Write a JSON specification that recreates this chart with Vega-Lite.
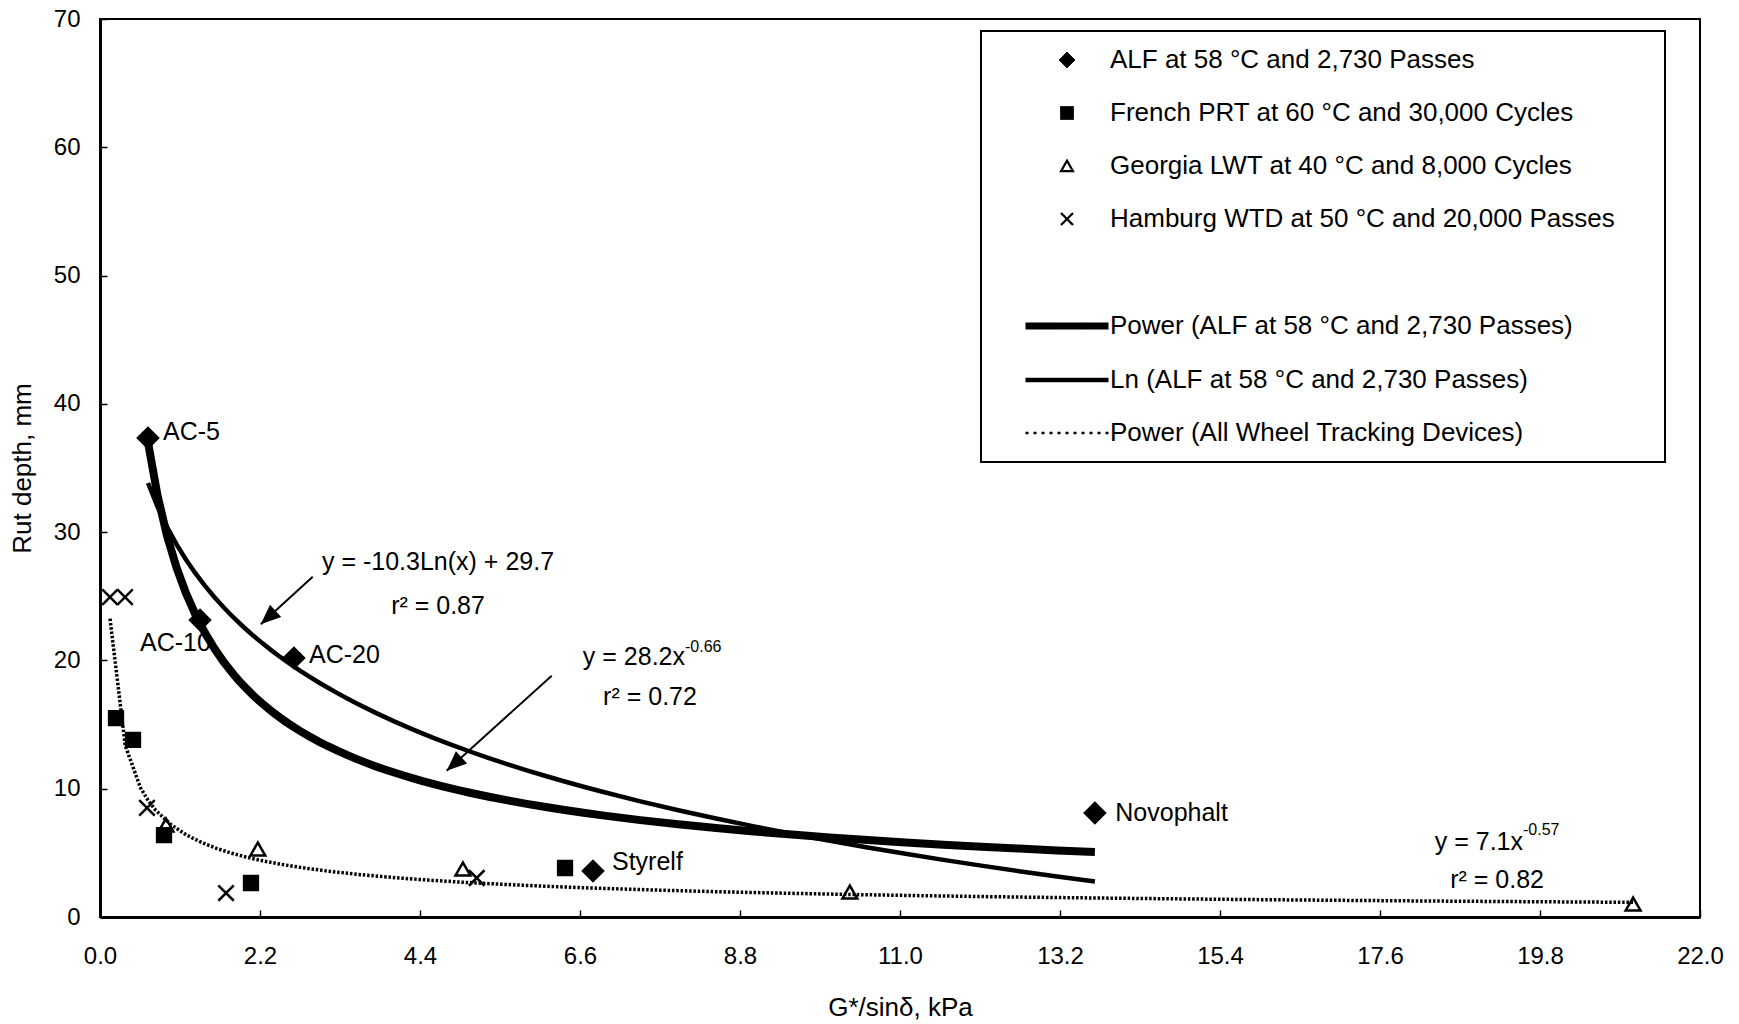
{
  "$schema": "https://vega.github.io/schema/vega-lite/v6.json",
  "autosize": {"type": "none"},
  "width": 1600,
  "height": 898,
  "padding": {"left": 100, "top": 19, "right": 39, "bottom": 107},
  "background": "white",
  "config": {
    "font": "Liberation Sans",
    "view": {"stroke": "black", "strokeWidth": 2},
    "axis": {
      "grid": false,
      "domainColor": "black",
      "domainWidth": 3,
      "tickColor": "black",
      "tickWidth": 1.5,
      "tickSize": -7,
      "labelColor": "black",
      "labelFontSize": 24,
      "labelFlush": false,
      "labelOverlap": false,
      "titleColor": "black",
      "titleFontSize": 26,
      "titleFontWeight": "normal"
    },
    "legend": {
      "orient": "none",
      "legendX": 881,
      "legendY": 12,
      "strokeColor": "black",
      "fillColor": "white",
      "padding": 16,
      "labelFontSize": 26,
      "labelColor": "black",
      "labelLimit": 1000,
      "rowPadding": 27,
      "symbolOffset": 57,
      "labelOffset": 30,
      "symbolStrokeColor": "black",
      "titleOrient": "right",
      "titlePadding": 34,
      "titleFontSize": 10
    }
  },
  "datasets": {
    "points": [
      {"series": "ALF at 58 °C and 2,730 Passes", "x": 0.66, "y": 37.34},
      {"series": "ALF at 58 °C and 2,730 Passes", "x": 1.375, "y": 23.15},
      {"series": "ALF at 58 °C and 2,730 Passes", "x": 2.667, "y": 20.19},
      {"series": "ALF at 58 °C and 2,730 Passes", "x": 6.779, "y": 3.59},
      {"series": "ALF at 58 °C and 2,730 Passes", "x": 13.68, "y": 8.11},
      {"series": "French PRT at 60 °C and 30,000 Cycles", "x": 0.22, "y": 15.51},
      {"series": "French PRT at 60 °C and 30,000 Cycles", "x": 0.454, "y": 13.8},
      {"series": "French PRT at 60 °C and 30,000 Cycles", "x": 0.88, "y": 6.39},
      {"series": "French PRT at 60 °C and 30,000 Cycles", "x": 2.076, "y": 2.65},
      {"series": "French PRT at 60 °C and 30,000 Cycles", "x": 6.394, "y": 3.82},
      {"series": "Georgia LWT at 40 °C and 8,000 Cycles", "x": 0.907, "y": 7.17},
      {"series": "Georgia LWT at 40 °C and 8,000 Cycles", "x": 2.17, "y": 5.3},
      {"series": "Georgia LWT at 40 °C and 8,000 Cycles", "x": 4.99, "y": 3.74},
      {"series": "Georgia LWT at 40 °C and 8,000 Cycles", "x": 10.31, "y": 1.95},
      {"series": "Georgia LWT at 40 °C and 8,000 Cycles", "x": 21.08, "y": 1.01},
      {"series": "Hamburg WTD at 50 °C and 20,000 Passes", "x": 0.1375, "y": 24.94},
      {"series": "Hamburg WTD at 50 °C and 20,000 Passes", "x": 0.344, "y": 24.94},
      {"series": "Hamburg WTD at 50 °C and 20,000 Passes", "x": 0.646, "y": 8.5},
      {"series": "Hamburg WTD at 50 °C and 20,000 Passes", "x": 1.733, "y": 1.87},
      {"series": "Hamburg WTD at 50 °C and 20,000 Passes", "x": 5.18, "y": 3.04}
    ],
    "notes": [
      {"role": "label", "text": "AC-5", "x": 0.866, "y": 37.8},
      {"role": "label", "text": "AC-10", "x": 0.55, "y": 21.36},
      {"role": "label", "text": "AC-20", "x": 2.874, "y": 20.42},
      {"role": "label", "text": "Styrelf", "x": 7.04, "y": 4.29},
      {"role": "label", "text": "Novophalt", "x": 13.96, "y": 8.1},
      {"role": "center", "text": "y = -10.3Ln(x) + 29.7", "x": 4.648, "y": 27.67},
      {"role": "center", "text": "r² = 0.87", "x": 4.648, "y": 24.24},
      {"role": "center", "text": "r² = 0.72", "x": 7.5625, "y": 17.15},
      {"role": "center", "text": "r² = 0.82", "x": 19.21, "y": 2.88},
      {"role": "right", "text": "y = 28.2x", "x": 8.044, "y": 20.27},
      {"role": "right", "text": "y = 7.1x", "x": 19.566, "y": 5.85},
      {"role": "sup", "text": "-0.66", "x": 8.044, "y": 21.05},
      {"role": "sup", "text": "-0.57", "x": 19.566, "y": 6.78}
    ],
    "arrows": [
      {"x": 2.925, "y": 26.53, "x2": 2.21, "y2": 22.82},
      {"x": 6.211, "y": 18.81, "x2": 4.767, "y2": 11.4}
    ]
  },
  "layer": [
    {
      "data": {"name": "notes"},
      "transform": [{"filter": "datum.role === 'label'"}],
      "mark": {"type": "text", "align": "left", "baseline": "middle", "fontSize": 25, "color": "black"},
      "encoding": {
        "x": {
          "field": "x", "type": "quantitative",
          "scale": {"domain": [0, 22], "nice": false, "zero": false},
          "axis": {
            "title": "G*/sinδ, kPa",
            "values": [0, 2.2, 4.4, 6.6, 8.8, 11, 13.2, 15.4, 17.6, 19.8, 22],
            "format": ".1f",
            "labelPadding": 34,
            "titleY": 90,
            "titleBaseline": "middle"
          }
        },
        "y": {
          "field": "y", "type": "quantitative",
          "scale": {"domain": [0, 70], "nice": false},
          "axis": {
            "title": "Rut depth, mm",
            "values": [0, 10, 20, 30, 40, 50, 60, 70],
            "labelPadding": 27,
            "titleX": -78,
            "titleBaseline": "middle"
          }
        },
        "text": {"field": "text"}
      }
    },
    {
      "data": {"name": "notes"},
      "transform": [{"filter": "datum.role === 'center'"}],
      "mark": {"type": "text", "align": "center", "baseline": "middle", "fontSize": 25, "color": "black"},
      "encoding": {
        "x": {"field": "x", "type": "quantitative"},
        "y": {"field": "y", "type": "quantitative"},
        "text": {"field": "text"}
      }
    },
    {
      "data": {"name": "notes"},
      "transform": [{"filter": "datum.role === 'right'"}],
      "mark": {"type": "text", "align": "right", "baseline": "middle", "fontSize": 25, "color": "black"},
      "encoding": {
        "x": {"field": "x", "type": "quantitative"},
        "y": {"field": "y", "type": "quantitative"},
        "text": {"field": "text"}
      }
    },
    {
      "data": {"name": "notes"},
      "transform": [{"filter": "datum.role === 'sup'"}],
      "mark": {"type": "text", "align": "left", "baseline": "middle", "fontSize": 16, "color": "black"},
      "encoding": {
        "x": {"field": "x", "type": "quantitative"},
        "y": {"field": "y", "type": "quantitative"},
        "text": {"field": "text"}
      }
    },
    {
      "data": {"name": "points"},
      "transform": [
        {"filter": "datum.series === 'ALF at 58 °C and 2,730 Passes'"},
        {"regression": "y", "on": "x", "method": "pow"}
      ],
      "mark": {"type": "line", "color": "black", "strokeWidth": 8, "strokeCap": "butt"},
      "encoding": {
        "x": {"field": "x", "type": "quantitative"},
        "y": {"field": "y", "type": "quantitative"}
      }
    },
    {
      "data": {"name": "points"},
      "transform": [
        {"filter": "datum.series === 'ALF at 58 °C and 2,730 Passes'"},
        {"regression": "y", "on": "x", "method": "log"}
      ],
      "mark": {"type": "line", "color": "black", "strokeWidth": 4.5, "strokeCap": "butt"},
      "encoding": {
        "x": {"field": "x", "type": "quantitative"},
        "y": {"field": "y", "type": "quantitative"}
      }
    },
    {
      "data": {"name": "points"},
      "transform": [
        {"filter": "datum.series !== 'ALF at 58 °C and 2,730 Passes'"},
        {"regression": "y", "on": "x", "method": "pow"}
      ],
      "mark": {"type": "line", "color": "black", "strokeWidth": 3.5, "strokeDash": [2.5, 1.8], "strokeCap": "butt"},
      "encoding": {
        "x": {"field": "x", "type": "quantitative"},
        "y": {"field": "y", "type": "quantitative"}
      }
    },
    {
      "data": {"name": "points"},
      "mark": {"type": "point", "stroke": "black", "strokeWidth": 2.5, "opacity": 1},
      "encoding": {
        "x": {"field": "x", "type": "quantitative"},
        "y": {"field": "y", "type": "quantitative"},
        "shape": {
          "field": "series", "type": "nominal", "title": "\u00a0",
          "scale": {"domain": ["ALF at 58 °C and 2,730 Passes", "French PRT at 60 °C and 30,000 Cycles", "Georgia LWT at 40 °C and 8,000 Cycles", "Hamburg WTD at 50 °C and 20,000 Passes", " ", "Power (ALF at 58 °C and 2,730 Passes)", "Ln (ALF at 58 °C and 2,730 Passes)", "Power (All Wheel Tracking Devices)"],
            "range": ["diamond", "square", "triangle-up", "M-1,-1L1,1M-1,1L1,-1", "circle", "stroke", "stroke", "stroke"]},
          "legend": {
            "encoding": {
              "symbols": {
                "fill": {"value": {"expr": "datum.value === 'ALF at 58 °C and 2,730 Passes' || datum.value === 'French PRT at 60 °C and 30,000 Cycles' ? 'black' : 'transparent'"}},
                "stroke": {"value": "black"},
                "size": {"value": {"expr": "indexof(['Power (ALF at 58 °C and 2,730 Passes)', 'Ln (ALF at 58 °C and 2,730 Passes)', 'Power (All Wheel Tracking Devices)'], datum.value) >= 0 ? 6889 : datum.value === 'ALF at 58 °C and 2,730 Passes' ? 256 : datum.value === ' ' ? 0 : datum.value === 'French PRT at 60 °C and 30,000 Cycles' ? 169 : 144"}},
                "strokeWidth": {"value": {"expr": "datum.value === 'Power (ALF at 58 °C and 2,730 Passes)' ? 7 : datum.value === 'Ln (ALF at 58 °C and 2,730 Passes)' ? 4.5 : datum.value === 'Power (All Wheel Tracking Devices)' ? 2.5 : datum.value === 'Georgia LWT at 40 °C and 8,000 Cycles' || datum.value === 'Hamburg WTD at 50 °C and 20,000 Passes' ? 2.2 : 1"}},
                "strokeDash": {"value": {"expr": "datum.value === 'Power (All Wheel Tracking Devices)' ? [3, 5] : [1, 0]"}}
              },
              "legend": {"strokeWidth": {"value": 2}}
            }
          }
        },
        "size": {
          "condition": [
            {"test": "datum.series === 'ALF at 58 °C and 2,730 Passes'", "value": 400},
            {"test": "datum.series === 'French PRT at 60 °C and 30,000 Cycles'", "value": 190},
            {"test": "datum.series === 'Georgia LWT at 40 °C and 8,000 Cycles'", "value": 220}
          ],
          "value": 240
        },
        "fill": {
          "condition": {"test": "datum.series === 'ALF at 58 °C and 2,730 Passes' || datum.series === 'French PRT at 60 °C and 30,000 Cycles'", "value": "black"},
          "value": "transparent"
        }
      }
    },
    {
      "data": {"name": "arrows"},
      "mark": {"type": "rule", "color": "black", "strokeWidth": 2},
      "encoding": {
        "x": {"field": "x", "type": "quantitative"},
        "y": {"field": "y", "type": "quantitative"},
        "x2": {"field": "x2"},
        "y2": {"field": "y2"}
      }
    },
    {
      "data": {"name": "arrows"},
      "mark": {"type": "point", "shape": "M0,0L-0.42,1L0.42,1Z", "size": 1600, "angle": 228, "filled": true, "color": "black", "opacity": 1, "strokeWidth": 0},
      "encoding": {
        "x": {"field": "x2", "type": "quantitative"},
        "y": {"field": "y2", "type": "quantitative"}
      }
    }
  ]
}
